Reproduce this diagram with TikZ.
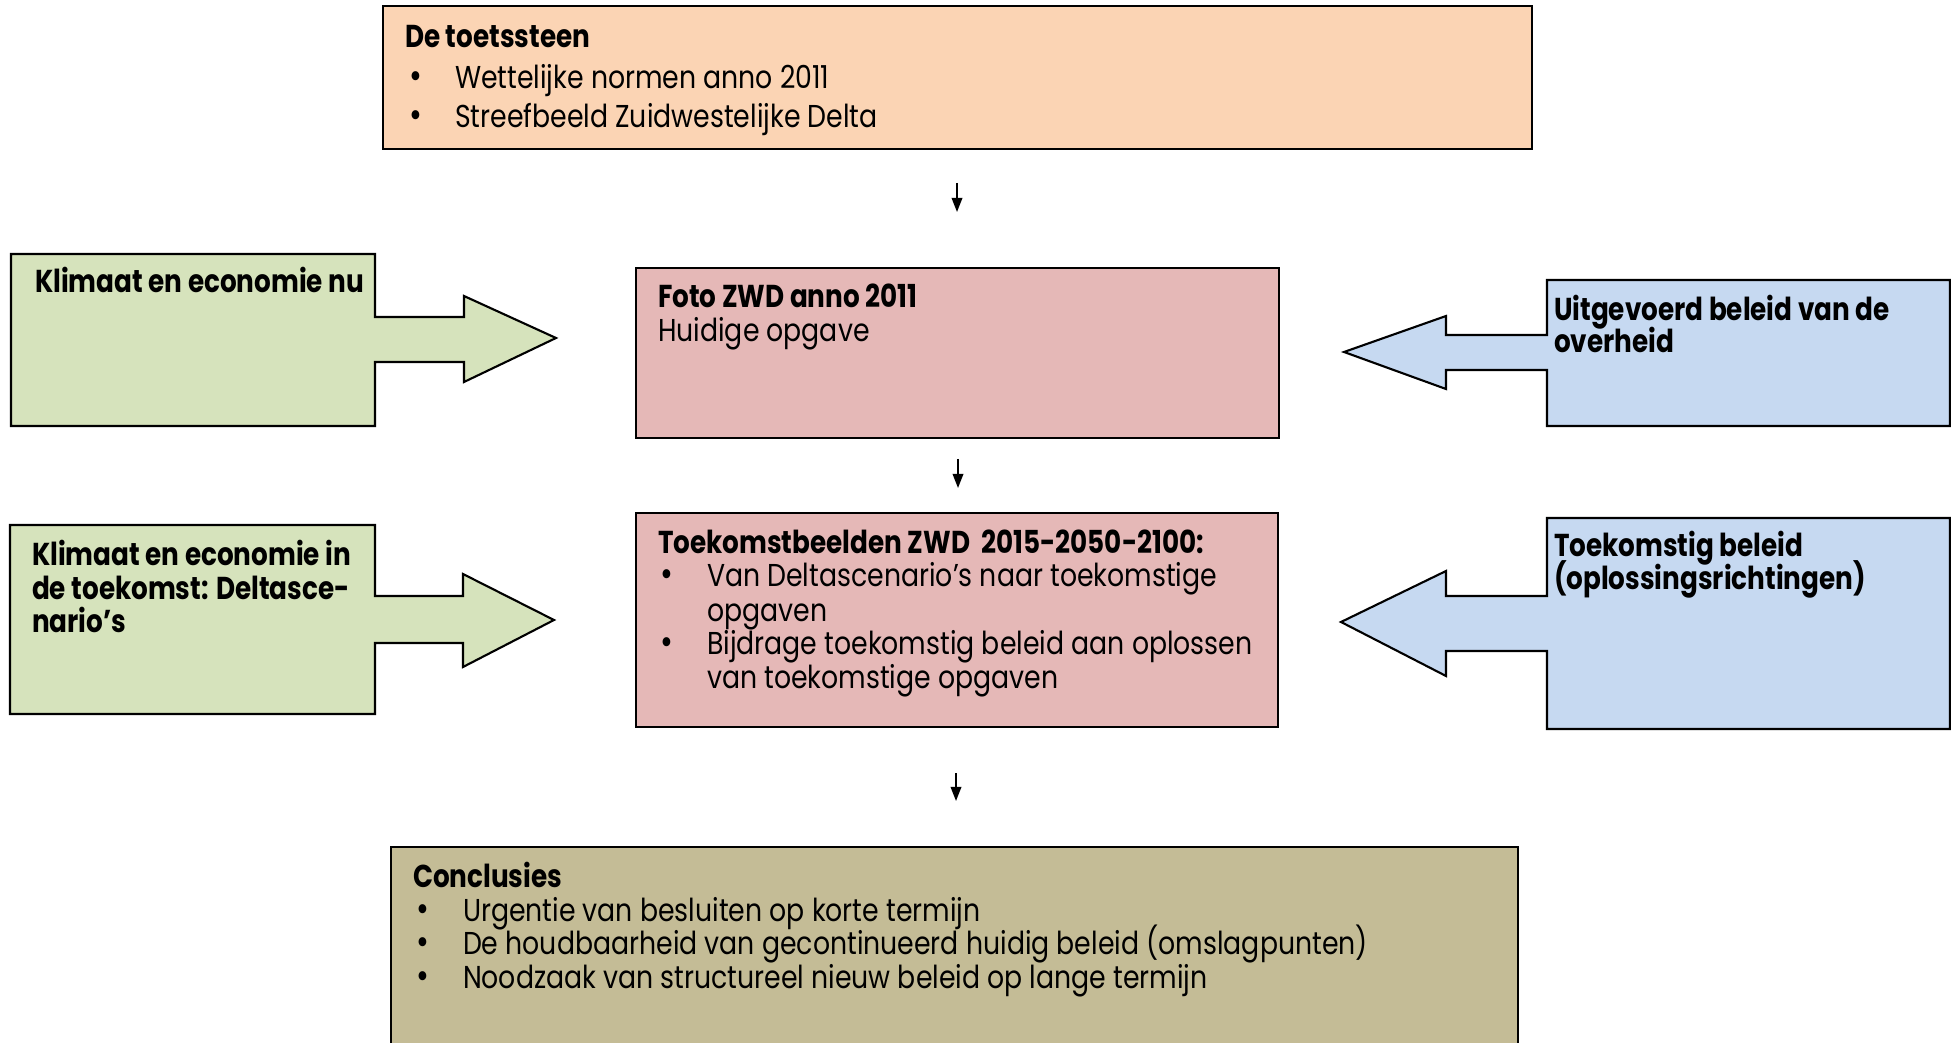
\documentclass[tikz,border=0pt]{standalone}
\usepackage{fontspec}
\setmainfont{Poppins}[UprightFeatures={FakeStretch=0.845}, BoldFeatures={FakeStretch=0.83}]
\usetikzlibrary{arrows.meta}

\definecolor{perzik}{RGB}{251,212,180}
\definecolor{roze}{RGB}{229,184,183}
\definecolor{groen}{RGB}{214,227,188}
\definecolor{blauw}{RGB}{198,217,241}
\definecolor{olijf}{RGB}{196,188,150}

\begin{document}
\begin{tikzpicture}[x=0.01cm, y=-0.01cm, line width=0.6pt,
    tekst/.style={anchor=base west, inner sep=0pt, font=\fontsize{9}{11}\selectfont},
    kop/.style={anchor=base west, inner sep=0pt, font=\fontsize{9}{11}\selectfont\bfseries},
    punt/.style={anchor=base west, inner sep=0pt, font=\fontsize{10.5}{11}\selectfont},
    pijl/.style={-{Triangle[length=4pt,width=3pt]}, line width=0.5pt}]
  \useasboundingbox (0,0) rectangle (1951,1043);
  \clip (0,0) rectangle (1951,1043);

  % De toetssteen
  \filldraw[fill=perzik] (383,6) rectangle (1532,149);
  \node[kop] (toets) at (404,48) {De toetssteen};
  \foreach \y/\t [count=\i] in {78/Wettelijke normen anno 2011, 117/Streefbeeld Zuidwestelijke Delta}{
    \node[punt] (toets-b\i) at (408,\y+11) {\textbullet};
    \node[tekst] (toets-t\i) at (454,\y+11) {\t};
  }

  % Foto ZWD
  \filldraw[fill=roze] (636,268) rectangle (1279,438);
  \node[kop] (foto) at (657,308) {Foto ZWD anno 2011};
  \node[tekst] (foto-t) at (657,342) {Huidige opgave};

  % Toekomstbeelden
  \filldraw[fill=roze] (636,513) rectangle (1278,727);
  \node[kop] (toek) at (657,554) {Toekomstbeelden ZWD \ 2015-2050-2100:};
  \node[punt] (toek-b1) at (659,587) {\textbullet};
  \node[punt] (toek-b2) at (659,654) {\textbullet};
  \foreach \y/\t [count=\i] in {576/Van Deltascenario’s naar toekomstige, 610/opgaven,
      643/Bijdrage toekomstig beleid aan oplossen, 677/van toekomstige opgaven}
    \node[tekst] (toek-t\i) at (706,\y+11) {\t};

  % Conclusies
  \filldraw[fill=olijf] (391,847) rectangle (1518,1100);
  \node[kop] (concl) at (412,887) {Conclusies};
  \foreach \y/\t [count=\i] in {910/Urgentie van besluiten op korte termijn,
      943/De houdbaarheid van gecontinueerd huidig beleid (omslagpunten),
      977/Noodzaak van structureel nieuw beleid op lange termijn}{
    \node[punt] (concl-b\i) at (415,\y+11) {\textbullet};
    \node[tekst] (concl-t\i) at (462,\y+11) {\t};
  }

  % Blokpijlen links (klimaat en economie)
  \filldraw[fill=groen] (11,254) -- (375,254) -- (375,317) -- (464,317) -- (464,296) -- (556,338)
    -- (464,382) -- (464,362) -- (375,362) -- (375,426) -- (11,426) -- cycle;
  \node[kop] (klim-nu) at (34,293) {Klimaat en economie nu};
  \filldraw[fill=groen] (10,525) -- (375,525) -- (375,596) -- (463,596) -- (463,574) -- (554,620)
    -- (463,667) -- (463,643) -- (375,643) -- (375,714) -- (10,714) -- cycle;
  \foreach \y/\t [count=\i] in {555/Klimaat en economie in, 589/de toekomst: Deltasce-, 622/nario’s}
    \node[kop] (klim-t\i) at (31,\y+11) {\t};

  % Blokpijlen rechts (beleid)
  \filldraw[fill=blauw] (1950,280) -- (1547,280) -- (1547,335) -- (1446,335) -- (1446,316) -- (1344,352)
    -- (1446,389) -- (1446,370) -- (1547,370) -- (1547,426) -- (1950,426) -- cycle;
  \node[kop] (beleid-t1) at (1553,321) {Uitgevoerd beleid van de};
  \node[kop] (beleid-t2) at (1553,353) {overheid};
  \filldraw[fill=blauw] (1950,518) -- (1547,518) -- (1547,596) -- (1446,596) -- (1446,571) -- (1341,622)
    -- (1446,676) -- (1446,651) -- (1547,651) -- (1547,729) -- (1950,729) -- cycle;
  \node[kop] (toekbel-t1) at (1553,557) {Toekomstig beleid};
  \node[kop] (toekbel-t2) at (1553,590) {(oplossingsrichtingen)};

  % kleine pijlen
  \coordinate (p1a) at (957,183); \coordinate (p1b) at (957,212);
  \coordinate (p2a) at (958,459); \coordinate (p2b) at (958,488);
  \coordinate (p3a) at (956,773); \coordinate (p3b) at (956,801);
  \foreach \i in {1,2,3}
    \draw[pijl] (p\i a) -- (p\i b);
\end{tikzpicture}
\end{document}
